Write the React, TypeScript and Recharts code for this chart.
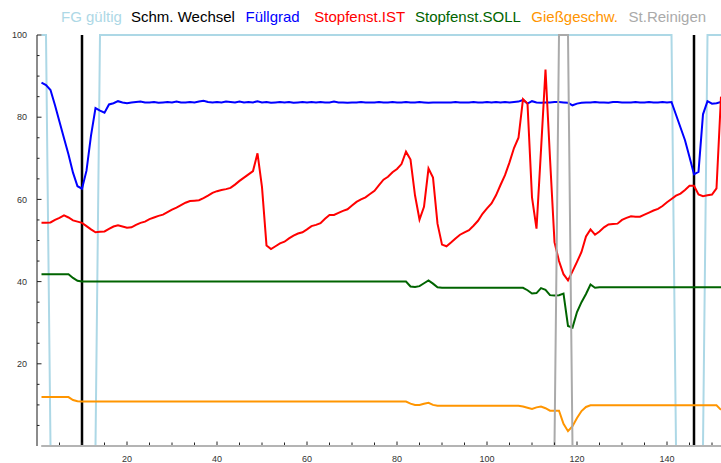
import React from 'react';
import { LineChart, Line, XAxis, YAxis, ReferenceLine } from 'recharts';

// ---- data (one value per sample, samples 1..152) ----
const fgGueltig = [
  100, 100, 0, 0, 0, 0, 0, 0, 0, 0,
  0, 0, 0, 100, 100, 100, 100, 100, 100, 100,
  100, 100, 100, 100, 100, 100, 100, 100, 100, 100,
  100, 100, 100, 100, 100, 100, 100, 100, 100, 100,
  100, 100, 100, 100, 100, 100, 100, 100, 100, 100,
  100, 100, 100, 100, 100, 100, 100, 100, 100, 100,
  100, 100, 100, 100, 100, 100, 100, 100, 100, 100,
  100, 100, 100, 100, 100, 100, 100, 100, 100, 100,
  100, 100, 100, 100, 100, 100, 100, 100, 100, 100,
  100, 100, 100, 100, 100, 100, 100, 100, 100, 100,
  100, 100, 100, 100, 100, 100, 100, 100, 100, 100,
  100, 100, 100, 100, 100, 100, 100, 100, 100, 100,
  100, 100, 100, 100, 100, 100, 100, 100, 100, 100,
  100, 100, 100, 100, 100, 100, 100, 100, 100, 100,
  100, 0, 0, 0, 0, 0, 0, 0, 100, 100,
  100, 100,
];

const schmWechselAt = [10, 146];

const fuellgrad = [
  88.4, 87.8, 86.6, 82.9, 78.9, 74.9, 70.9, 66.5, 63.2, 62.6,
  67.0, 75.5, 82.2, 81.6, 81.1, 83.1, 83.4, 83.9, 83.6, 83.4,
  83.6, 83.7, 83.8, 83.6, 83.6, 83.7, 83.5, 83.6, 83.7, 83.6,
  83.8, 83.6, 83.6, 83.7, 83.6, 83.8, 84.0, 83.7, 83.6, 83.7,
  83.6, 83.8, 83.7, 83.6, 83.8, 83.6, 83.7, 83.6, 83.9, 83.6,
  83.7, 83.5, 83.6, 83.7, 83.6, 83.7, 83.5, 83.6, 83.7, 83.6,
  83.7, 83.6, 83.7, 83.6, 83.6, 83.8, 83.6, 83.6, 83.5, 83.6,
  83.6, 83.7, 83.6, 83.6, 83.6, 83.7, 83.6, 83.6, 83.7, 83.6,
  83.6, 83.7, 83.6, 83.6, 83.7, 83.6, 83.5, 83.6, 83.6, 83.6,
  83.6, 83.6, 83.7, 83.6, 83.6, 83.6, 83.7, 83.6, 83.6, 83.7,
  83.6, 83.7, 83.6, 83.7, 83.6, 83.7, 83.8, 84.2, 83.3, 83.9,
  83.6, 83.5, 83.6, 83.6, 83.7, 83.7, 83.6, 83.5, 82.9, 83.3,
  83.5, 83.6, 83.6, 83.7, 83.6, 83.6, 83.5, 83.7, 83.7, 83.6,
  83.6, 83.6, 83.7, 83.6, 83.6, 83.7, 83.6, 83.6, 83.7, 83.6,
  83.7, 80.6, 77.5, 74.4, 70.3, 66.1, 66.7, 80.7, 83.9, 83.3,
  83.4, 83.7,
];

const stopfenIst = [
  54.3, 54.3, 54.4, 55.0, 55.5, 56.1, 55.6, 54.9, 54.6, 54.3,
  53.5, 52.7, 52.0, 52.1, 52.2, 52.8, 53.4, 53.7, 53.4, 53.1,
  53.2, 53.8, 54.3, 54.6, 55.2, 55.6, 56.0, 56.3, 56.9, 57.5,
  58.0, 58.6, 59.2, 59.6, 59.7, 59.8, 60.3, 60.9, 61.6, 62.0,
  62.3, 62.5, 62.8, 63.6, 64.5, 65.3, 66.1, 66.9, 71.2, 63.0,
  48.8, 47.9, 48.6, 49.3, 49.7, 50.5, 51.2, 51.7, 52.0, 52.7,
  53.5, 53.8, 54.2, 55.3, 56.2, 56.2, 56.7, 57.2, 57.6, 58.5,
  59.4, 60.0, 60.5, 61.3, 62.1, 63.5, 64.8, 65.5, 66.6, 67.4,
  68.6, 71.6, 69.7, 61.0, 55.1, 58.2, 67.5, 65.3, 54.1, 49.0,
  48.6, 49.5, 50.5, 51.4, 52.0, 52.5, 53.6, 54.8, 56.5, 57.8,
  59.0, 61.0, 63.5, 65.9, 69.0, 72.5, 75.0, 84.4, 83.3, 60.5,
  52.9, 72.0, 91.6, 70.0, 49.6, 45.0, 41.8, 40.3, 42.5, 44.8,
  47.2, 51.0, 52.7, 51.4, 52.2, 53.2, 53.9, 54.0, 54.1, 55.0,
  55.5, 55.9, 55.8, 55.8, 56.3, 56.8, 57.3, 57.7, 58.4, 59.3,
  60.1, 60.9, 61.4, 62.3, 63.3, 63.3, 61.2, 60.8, 61.0, 61.2,
  62.7, 85.0,
];

const stopfenSoll = [
  41.8, 41.8, 41.8, 41.8, 41.8, 41.8, 41.8, 40.9, 40.2, 40.0,
  40, 40, 40, 40, 40, 40, 40, 40, 40, 40,
  40, 40, 40, 40, 40, 40, 40, 40, 40, 40,
  40, 40, 40, 40, 40, 40, 40, 40, 40, 40,
  40, 40, 40, 40, 40, 40, 40, 40, 40, 40,
  40, 40, 40, 40, 40, 40, 40, 40, 40, 40,
  40, 40, 40, 40, 40, 40, 40, 40, 40, 40,
  40, 40, 40, 40, 40, 40, 40, 40, 40, 40,
  40, 40, 38.8, 38.7, 38.9, 39.6, 40.3, 39.5, 38.6, 38.5,
  38.5, 38.5, 38.5, 38.5, 38.5, 38.5, 38.5, 38.5, 38.5, 38.5,
  38.5, 38.5, 38.5, 38.5, 38.5, 38.5, 38.5, 38.5, 37.9, 37.1,
  37.2, 38.4, 38.0, 36.7, 36.6, 36.7, 37.1, 29.2, 28.8, 32.6,
  35.0, 37.0, 39.3, 38.5, 38.6, 38.6, 38.6, 38.6, 38.6, 38.6,
  38.6, 38.6, 38.6, 38.6, 38.6, 38.6, 38.6, 38.6, 38.6, 38.6,
  38.6, 38.6, 38.6, 38.6, 38.6, 38.6, 38.6, 38.6, 38.6, 38.6,
  38.6, 38.6,
];

const giessGeschw = [
  11.9, 11.9, 11.9, 11.9, 11.9, 11.9, 11.9, 11.2, 10.9, 10.8,
  10.8, 10.8, 10.8, 10.8, 10.8, 10.8, 10.8, 10.8, 10.8, 10.8,
  10.8, 10.8, 10.8, 10.8, 10.8, 10.8, 10.8, 10.8, 10.8, 10.8,
  10.8, 10.8, 10.8, 10.8, 10.8, 10.8, 10.8, 10.8, 10.8, 10.8,
  10.8, 10.8, 10.8, 10.8, 10.8, 10.8, 10.8, 10.8, 10.8, 10.8,
  10.8, 10.8, 10.8, 10.8, 10.8, 10.8, 10.8, 10.8, 10.8, 10.8,
  10.8, 10.8, 10.8, 10.8, 10.8, 10.8, 10.8, 10.8, 10.8, 10.8,
  10.8, 10.8, 10.8, 10.8, 10.8, 10.8, 10.8, 10.8, 10.8, 10.8,
  10.8, 10.8, 10.3, 10.0, 10.0, 10.3, 10.5, 10.0, 9.8, 9.8,
  9.8, 9.8, 9.8, 9.8, 9.8, 9.8, 9.8, 9.8, 9.8, 9.8,
  9.8, 9.8, 9.8, 9.8, 9.8, 9.8, 9.8, 9.6, 9.3, 9.0,
  9.4, 9.6, 9.2, 8.6, 8.6, 8.6, 5.4, 3.6, 4.8, 6.8,
  8.5, 9.5, 9.9, 9.9, 9.9, 9.9, 9.9, 9.9, 9.9, 9.9,
  9.9, 9.9, 9.9, 9.9, 9.9, 9.9, 9.9, 9.9, 9.9, 9.9,
  9.9, 9.9, 9.9, 9.9, 9.9, 9.9, 9.9, 9.9, 9.9, 9.9,
  9.9, 8.8,
];

const stReinigen = [
  0, 0, 0, 0, 0, 0, 0, 0, 0, 0,
  0, 0, 0, 0, 0, 0, 0, 0, 0, 0,
  0, 0, 0, 0, 0, 0, 0, 0, 0, 0,
  0, 0, 0, 0, 0, 0, 0, 0, 0, 0,
  0, 0, 0, 0, 0, 0, 0, 0, 0, 0,
  0, 0, 0, 0, 0, 0, 0, 0, 0, 0,
  0, 0, 0, 0, 0, 0, 0, 0, 0, 0,
  0, 0, 0, 0, 0, 0, 0, 0, 0, 0,
  0, 0, 0, 0, 0, 0, 0, 0, 0, 0,
  0, 0, 0, 0, 0, 0, 0, 0, 0, 0,
  0, 0, 0, 0, 0, 0, 0, 0, 0, 0,
  0, 0, 0, 0, 0, 100, 100, 100, 0, 0,
  0, 0, 0, 0, 0, 0, 0, 0, 0, 0,
  0, 0, 0, 0, 0, 0, 0, 0, 0, 0,
  0, 0, 0, 0, 0, 0, 0, 0, 0, 0,
  0, 0,
];

const xTicks = [5, 10, 15, 20, 25, 30, 35, 40, 45, 50, 55, 60, 65, 70, 75, 80, 85, 90, 95, 100, 105, 110, 115, 120, 125, 130, 135, 140, 145, 150];
const xLabelTicks = [20, 40, 60, 80, 100, 120, 140];
const yTicks = [0, 5, 10, 15, 20, 25, 30, 35, 40, 45, 50, 55, 60, 65, 70, 75, 80, 85, 90, 95, 100];
const yLabelTicks = [20, 40, 60, 80, 100];

const legendNames = ['FG gültig', 'Schm. Wechsel', 'Füllgrad', 'Stopfenst.IST', 'Stopfenst.SOLL', 'Gießgeschw.', 'St.Reinigen'];

// ---- styling / layout ----
const COLORS = {
  fg: '#add8e6',
  schm: '#000000',
  fuell: '#0000ff',
  ist: '#ff0000',
  soll: '#006400',
  giess: '#ff9500',
  rein: '#aaaaaa',
};
const legendColors = [COLORS.fg, COLORS.schm, COLORS.fuell, COLORS.ist, COLORS.soll, COLORS.giess, COLORS.rein];
const legendLefts = [61, 131, 245.5, 314.3, 415, 531.3, 628.6];

const Y_TICK_MARGIN = 10;
const X_TICK_MARGIN = 10;

const rows = fuellgrad.map((_, i) => ({
  x: i + 1,
  fg: fgGueltig[i],
  fuell: fuellgrad[i],
  ist: stopfenIst[i],
  soll: stopfenSoll[i],
  giess: giessGeschw[i],
  rein: stReinigen[i],
}));

const YTick = (props: any) => {
  const { x, y, payload } = props;
  const v = payload.value;
  if (v === 0) return <g />;
  const axisX = x + Y_TICK_MARGIN;
  const major = yLabelTicks.includes(v);
  return (
    <g>
      <line x1={axisX} x2={axisX + (major ? 4.5 : 2.5)} y1={y} y2={y} stroke="#222" strokeWidth={1} />
      {major && (
        <text x={x} y={y} dy="0.355em" textAnchor="end" fontSize={9} fill="#333">
          {v}
        </text>
      )}
    </g>
  );
};

const XTick = (props: any) => {
  const { x, y, payload } = props;
  const v = payload.value;
  const axisY = y - X_TICK_MARGIN;
  const major = xLabelTicks.includes(v);
  return (
    <g>
      <line x1={x} x2={x} y1={axisY - 1} y2={axisY - 1 - (major ? 3.5 : 2.5)} stroke="#222" strokeWidth={1} />
      {major && (
        <text x={x} y={y} dy="0.7em" textAnchor="middle" fontSize={9} fill="#333">
          {v}
        </text>
      )}
    </g>
  );
};

export default function App() {
  return (
    <div
      style={{
        position: 'absolute',
        left: 0,
        top: 0,
        width: 721,
        height: 463,
        overflow: 'hidden',
        background: '#fff',
        fontFamily: '"Liberation Sans", Arial, sans-serif',
      }}
    >
      <LineChart width={721} height={463} data={rows} margin={{ top: 35, right: 0, bottom: 0, left: 0 }}>
        <XAxis
          dataKey="x"
          type="number"
          domain={[0, 152]}
          ticks={xTicks}
          interval={0}
          height={17}
          tickSize={0}
          tickMargin={X_TICK_MARGIN}
          axisLine={false}
          tickLine={false}
          tick={XTick}
        />
        <YAxis
          type="number"
          domain={[0, 100]}
          ticks={yTicks}
          interval={0}
          width={37}
          tickSize={0}
          tickMargin={Y_TICK_MARGIN}
          axisLine={{ stroke: '#8c8c8c', strokeWidth: 2 }}
          tickLine={false}
          tick={YTick}
        />
        <Line type="linear" dataKey="fg" stroke={COLORS.fg} strokeWidth={2} dot={false} isAnimationActive={false} />
        {schmWechselAt.map((v) => (
          <ReferenceLine key={v} x={v} stroke={COLORS.schm} strokeWidth={2.5} />
        ))}
        <Line type="linear" dataKey="fuell" stroke={COLORS.fuell} strokeWidth={2} dot={false} isAnimationActive={false} />
        <Line type="linear" dataKey="ist" stroke={COLORS.ist} strokeWidth={2} dot={false} isAnimationActive={false} />
        <Line type="linear" dataKey="soll" stroke={COLORS.soll} strokeWidth={2} dot={false} isAnimationActive={false} />
        <Line type="linear" dataKey="giess" stroke={COLORS.giess} strokeWidth={2} dot={false} isAnimationActive={false} />
        <Line type="linear" dataKey="rein" stroke={COLORS.rein} strokeWidth={2} dot={false} isAnimationActive={false} />
        <ReferenceLine
          segment={[
            { x: 1, y: 0 },
            { x: 152, y: 0 },
          ]}
          stroke="#b4b4b4"
          strokeWidth={2}
        />
      </LineChart>
      {legendNames.map((name, i) => (
        <span
          key={name}
          style={{
            position: 'absolute',
            left: legendLefts[i],
            top: 8,
            fontSize: 15,
            lineHeight: 'normal',
            whiteSpace: 'nowrap',
            color: legendColors[i],
          }}
        >
          {name}
        </span>
      ))}
    </div>
  );
}
